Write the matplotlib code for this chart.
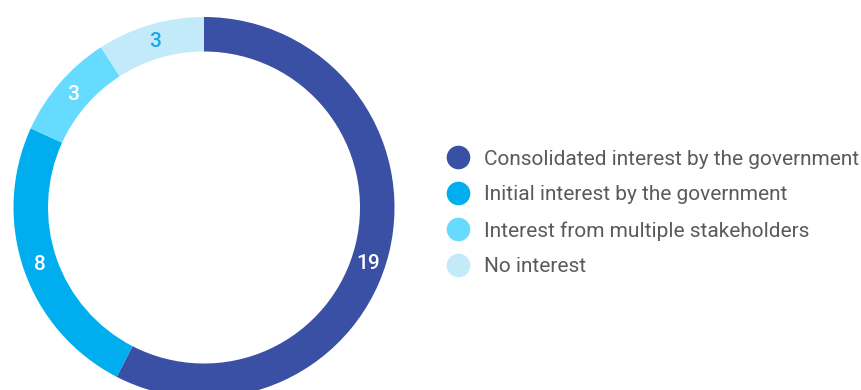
import matplotlib
matplotlib.use("Agg")
import numpy as np
from matplotlib import pyplot as plt
from matplotlib.lines import Line2D

plt.rcParams['font.family'] = ['Roboto', 'DejaVu Sans']

categories = ['Consolidated interest by the government',
              'Initial interest by the government',
              'Interest from multiple stakeholders',
              'No interest']
values = [19, 8, 3, 3]
colors = ['#3a50a4', '#00aeef', '#66dbff', '#c2eaf9']
label_colors = ['white', 'white', 'white', '#1aa6e8']

fig = plt.figure(figsize=(8.62, 3.9), dpi=100)
ax = fig.add_axes([0, 0, 1, 1])
ax.set_xlim(0, 862)
ax.set_ylim(0, 390)
ax.axis('off')

cx, cy = 204, 390 - 207.5
r_out, ring = 190.5, 34.5
r_lab = r_out - ring / 2

wedges, texts = ax.pie(values, center=(cx, cy), radius=r_out,
                       startangle=90, counterclock=False, colors=colors,
                       labels=[str(v) for v in values],
                       labeldistance=r_lab / r_out,
                       wedgeprops=dict(width=ring, linewidth=0),
                       textprops=dict(fontsize=15, ha='center', va='center'))
for t, c in zip(texts, label_colors):
    t.set_color(c)
    t.set_fontweight('medium')

# the big segment's label sits a little lower along the ring in the original
a = np.deg2rad(90 - 109)
texts[0].set_position((cx + r_lab * np.cos(a), cy + r_lab * np.sin(a)))

ax.set_xlim(0, 862)
ax.set_ylim(0, 390)

handles = [Line2D([], [], marker='o', linestyle='none', markersize=17,
                  markerfacecolor=c, markeredgewidth=0) for c in colors]
leg = ax.legend(handles, categories, loc='center left',
                bbox_to_anchor=(447.5 / 862, 1 - 213 / 390), frameon=False,
                fontsize=15, labelspacing=0.8, handlelength=1.0,
                handletextpad=0.75, borderaxespad=0, borderpad=0)
for t in leg.get_texts():
    t.set_color('#5a5a5a')

fig.savefig('out.png', dpi=100)
